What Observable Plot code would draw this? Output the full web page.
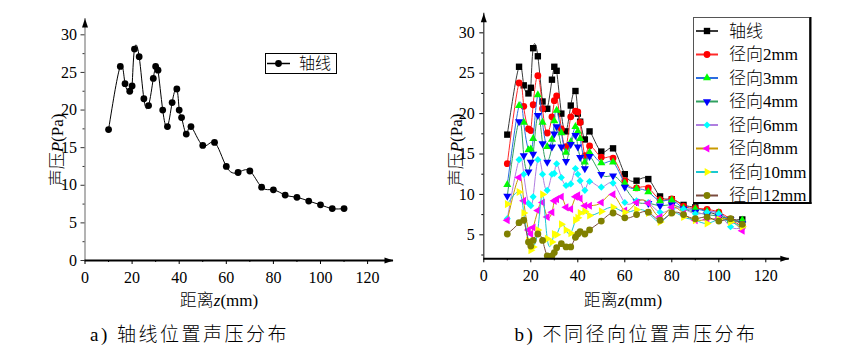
<!DOCTYPE html>
<html><head><meta charset="utf-8">
<script src="https://cdn.jsdelivr.net/npm/d3@7"></script>
<script src="https://cdn.jsdelivr.net/npm/@observablehq/plot@0.6"></script>
<style>
body{margin:0;background:#fff;}
#wrap{position:relative;width:850px;height:354px;overflow:hidden;background:#fff;}
#wrap svg{position:absolute;top:0;}
</style></head><body><div id="wrap"></div>
<script>
// ---------- data ----------
const zPositions = [10,15,17,19,20,21,23,25,27,29,30,31,33,35,37,39,40,41,43,45,50,55,60,65,70,75,80,85,90,95,100,105,110];
const pAxis = [17.4,25.8,23.5,22.5,23.2,28.1,27.1,21.5,20.6,24.2,25.8,25.3,20.0,17.8,21.0,22.8,20.0,19.0,16.8,17.8,15.3,15.7,12.5,11.7,11.9,9.75,9.4,8.7,8.4,7.9,7.4,6.9,6.9];
const p2  = [13.8,23.8,20.9,18.1,17.9,21.1,24.7,20.6,17.6,19.6,21.6,22.2,18.1,15.9,19.6,20.3,20.2,18.9,14.8,16.0,14.6,14.5,11.7,10.8,10.8,9.35,9.45,8.55,8.3,8.15,7.8,6.95,6.0];
const p3  = [11.2,21.0,18.9,15.5,15.6,16.9,22.3,18.9,15.9,16.8,19.1,20.4,17.6,15.2,16.5,18.4,17.8,16.9,14.0,15.2,13.9,14.0,11.4,10.7,10.3,9.2,9.3,8.3,8.2,7.9,7.7,6.8,6.8];
const p4  = [9.8,19.0,14.8,12.8,14.0,15.0,19.8,16.3,14.0,15.9,17.5,18.4,15.9,14.1,16.2,17.3,15.9,14.6,13.2,14.7,12.5,12.3,10.9,9.1,8.9,8.6,8.7,8.2,7.8,7.5,7.3,6.9,6.4];
const p6  = [7.0,14.3,12.5,8.9,8.6,9.7,14.3,12.5,10.5,12.5,12.6,13.8,12.1,11.1,11.3,13.2,12.5,11.7,10.5,11.6,10.9,11.4,9.0,9.2,9.0,7.8,8.2,8.2,7.6,7.8,7.6,6.0,5.9];
const p8  = [6.8,12.1,9.2,5.6,5.1,5.9,8.0,9.0,7.2,7.8,9.2,9.4,9.7,8.4,8.2,9.7,9.9,9.5,8.6,8.6,9.0,10.0,8.0,9.0,8.9,7.2,8.4,7.6,6.8,6.9,7.0,6.8,5.5];
const p10 = [8.8,10.3,7.7,4.3,3.1,3.5,5.6,10.0,4.5,4.1,5.1,5.0,6.3,5.6,5.2,6.8,7.1,7.7,7.9,7.4,7.9,8.4,7.8,8.1,7.7,6.6,7.7,7.2,6.8,6.4,6.9,6.6,6.0];
const p12 = [5.1,6.5,6.8,4.1,3.6,4.3,5.1,4.3,2.4,2.4,2.8,3.4,3.9,3.5,3.5,4.7,5.1,5.4,5.1,5.6,6.7,7.7,7.1,7.5,7.8,6.8,7.7,7.5,7.0,7.2,6.7,7.0,6.3];
const seriesNames = ["轴线","径向2mm","径向3mm","径向4mm","径向6mm","径向8mm","径向10mm","径向12mm"];
const seriesValues = [pAxis,p2,p3,p4,p6,p8,p10,p12];
const xTicks = [0,20,40,60,80,100,120];
const xMinorTicks = [10,30,50,70,90,110];
const yTicksLeft = [0,5,10,15,20,25,30];
const yMinorLeft = [2.5,7.5,12.5,17.5,22.5,27.5];
const yTicksRight = [5,10,15,20,25,30];
const yMinorRight = [2.5,7.5,12.5,17.5,22.5,27.5];

// ---------- styles ----------
const FONT = "'Liberation Serif','Noto Sans CJK SC',serif";
const lineColors = ["#3a3a3a","#ff2a2a","#2a6de0","#30a060","#b07ee0","#c99a00","#19c8d2","#7a4b3e"];
const markerColors = ["#000000","#ff0000","#00ff00","#0000ff","#00ffff","#ff00ff","#ffff00","#808000"];
function tri(angleDeg){
  const a = angleDeg*Math.PI/180, c = Math.cos(a), s = Math.sin(a);
  return {draw(ctx, size){
    const y = -Math.sqrt(size/(Math.sqrt(3)*3));
    const pts = [[0,2*y],[-Math.sqrt(3)*y,-y],[Math.sqrt(3)*y,-y]];
    pts.forEach(([px,py],i)=>{const X=px*c-py*s, Y=px*s+py*c; i?ctx.lineTo(X,Y):ctx.moveTo(X,Y);});
    ctx.closePath();
  }};
}
const symbols = [d3.symbolSquare, d3.symbolCircle, tri(0), tri(180), d3.symbolDiamond2, tri(-90), tri(90), d3.symbolCircle];
const radii = [3.6,3.4,3.0,3.0,3.2,3.0,3.0,3.4];
const arrowUp = {draw(ctx){ctx.moveTo(0,0);ctx.lineTo(-3,9);ctx.lineTo(3,9);ctx.closePath();}};
const arrowRight = {draw(ctx){ctx.moveTo(0,0);ctx.lineTo(-9,-3);ctx.lineTo(-9,3);ctx.closePath();}};
const CURVE = "natural";

const wrap = document.getElementById("wrap");
const style = {fontFamily: FONT, fontSize: "16px", color: "#000", background: "transparent", overflow: "visible"};

// ---------- left panel ----------
const leftData = zPositions.map((z,i)=>({z, p: pAxis[i]}));
const yDomL = [0, 32.17], xDomL = [0, 131];
const left = Plot.plot({
  width: 425, height: 354,
  marginLeft: 84.5, marginRight: 32, marginTop: 18, marginBottom: 94,
  style,
  x: {domain: xDomL}, y: {domain: yDomL},
  marks: [
    Plot.ruleX([0], {stroke: "#808080", strokeWidth: 1.2}),
    Plot.dot([{x: 0, y: yDomL[1]}], {x: "x", y: "y", symbol: arrowUp, fill: "#000", r: 3}),
    Plot.axisY(yTicksLeft, {tickSize: 4, tickPadding: 4, label: null, stroke: "#333"}),
    Plot.axisY(yMinorLeft, {tickSize: 2, tickFormat: () => "", label: null, stroke: "#333"}),
    Plot.axisX(xTicks, {tickSize: 4, tickPadding: 7, label: null}),
    Plot.axisX(xMinorTicks, {tickSize: 2, tickFormat: () => "", label: null}),
    Plot.line(leftData, {x: "z", y: "p", curve: CURVE, stroke: "#000", strokeWidth: 1}),
    Plot.dot(leftData, {x: "z", y: "p", r: 3.4, fill: "#000", symbol: "circle"}),
    Plot.ruleY([0], {stroke: "#000", strokeWidth: 2}),
    Plot.dot([{x: xDomL[1], y: 0}], {x: "x", y: "y", symbol: arrowRight, fill: "#000", r: 3})
  ]
});
left.style.left = "0px";
wrap.appendChild(left);

// ---------- right panel ----------
const yDomR = [2.03, 32.43], xDomR = [0, 130];
const rightMarks = [
  Plot.ruleX([0], {stroke: "#333", strokeWidth: 1.2}),
  Plot.dot([{x: 0, y: yDomR[1]}], {x: "x", y: "y", symbol: arrowUp, fill: "#000", r: 3}),
  Plot.axisY(yTicksRight, {tickSize: 4, tickPadding: 5, label: null}),
  Plot.axisY(yMinorRight, {tickSize: 2, tickFormat: () => "", label: null}),
  Plot.axisX(xTicks, {tickSize: 4, tickPadding: 7, label: null}),
  Plot.axisX(xMinorTicks, {tickSize: 2, tickFormat: () => "", label: null})
];
seriesValues.forEach((vals, k) => {
  const d = zPositions.map((z,i)=>({z, p: vals[i]}));
  rightMarks.push(Plot.line(d, {x: "z", y: "p", curve: CURVE, stroke: lineColors[k], strokeWidth: 1}));
  rightMarks.push(Plot.dot(d, {x: "z", y: "p", r: radii[k], fill: markerColors[k], symbol: symbols[k]}));
});
rightMarks.push(Plot.ruleY([yDomR[0]], {stroke: "#000", strokeWidth: 2}));
rightMarks.push(Plot.dot([{x: xDomR[1], y: yDomR[0]}], {x: "x", y: "y", symbol: arrowRight, fill: "#000", r: 3}));
const right = Plot.plot({
  width: 425, height: 354,
  marginLeft: 58.3, marginRight: 61.2, marginTop: 12.7, marginBottom: 95.7,
  style,
  x: {domain: xDomR}, y: {domain: yDomR},
  marks: rightMarks
});
right.style.left = "425px";
wrap.appendChild(right);

// ---------- overlay: titles, captions, legends ----------
const ov = d3.select(wrap).append("svg").attr("width", 850).attr("height", 354)
  .style("left", "0px").style("font-family", FONT).style("pointer-events", "none");

function axisTitle(x, y, pre, it, post, rot){
  const t = ov.append("text").attr("text-anchor", "middle").attr("dominant-baseline", "central")
    .attr("font-size", 17)
    .attr("transform", `translate(${x},${y})` + (rot ? " rotate(-90)" : ""));
  t.append("tspan").attr("font-weight", 300).text(pre);
  t.append("tspan").attr("font-style", "italic").text(it);
  t.append("tspan").text(post);
}
axisTitle(219, 300, "距离", "z", "(mm)", false);
axisTitle(623, 300, "距离", "z", "(mm)", false);
axisTitle(57, 150, "声压", "P", "(Pa)", true);
axisTitle(455.5, 150, "声压", "P", "(Pa)", true);

ov.append("text").attr("x", 189.5).attr("y", 334).attr("text-anchor", "middle").attr("dominant-baseline", "central")
  .attr("font-size", 19).attr("font-weight", 300).attr("letter-spacing", 2.5).text("a)  轴线位置声压分布");
ov.append("text").attr("x", 636).attr("y", 334).attr("text-anchor", "middle").attr("dominant-baseline", "central")
  .attr("font-size", 19).attr("font-weight", 300).attr("letter-spacing", 2.5).text("b)  不同径向位置声压分布");

// left legend
const lg = ov.append("g");
lg.append("rect").attr("x", 265.5).attr("y", 53.5).attr("width", 71).attr("height", 20)
  .attr("fill", "#fff").attr("stroke", "#000").attr("stroke-width", 1);
lg.append("line").attr("x1", 267).attr("x2", 290).attr("y1", 63.5).attr("y2", 63.5).attr("stroke", "#000").attr("stroke-width", 1.5);
lg.append("path").attr("d", d3.symbol(d3.symbolCircle, Math.PI*3.4*3.4)()).attr("transform", "translate(278.5,63.5)").attr("fill", "#000");
lg.append("text").attr("x", 299).attr("y", 63.5).attr("dominant-baseline", "central").attr("font-size", 16).attr("font-weight", 300).text(seriesNames[0]);

// right legend
const rg = ov.append("g");
rg.append("rect").attr("x", 693.5).attr("y", 17.5).attr("width", 116).attr("height", 185)
  .attr("fill", "#fff").attr("stroke", "#555").attr("stroke-width", 1);
rg.append("line").attr("x1", 810.5).attr("x2", 810.5).attr("y1", 17).attr("y2", 204).attr("stroke", "#000").attr("stroke-width", 2);
rg.append("line").attr("x1", 693).attr("x2", 811.5).attr("y1", 203).attr("y2", 203).attr("stroke", "#000").attr("stroke-width", 2);
seriesNames.forEach((name, k) => {
  const cy = 31 + k * 23.5;
  rg.append("line").attr("x1", 696).attr("x2", 718).attr("y1", cy).attr("y2", cy).attr("stroke", lineColors[k]).attr("stroke-width", 2);
  rg.append("path").attr("d", d3.symbol(symbols[k], Math.PI*radii[k]*radii[k])()).attr("transform", `translate(707,${cy})`).attr("fill", markerColors[k]);
  rg.append("text").attr("x", 729).attr("y", cy).attr("dominant-baseline", "central").attr("font-size", 17).attr("font-weight", 300).text(name);
});
</script>
</body></html>
